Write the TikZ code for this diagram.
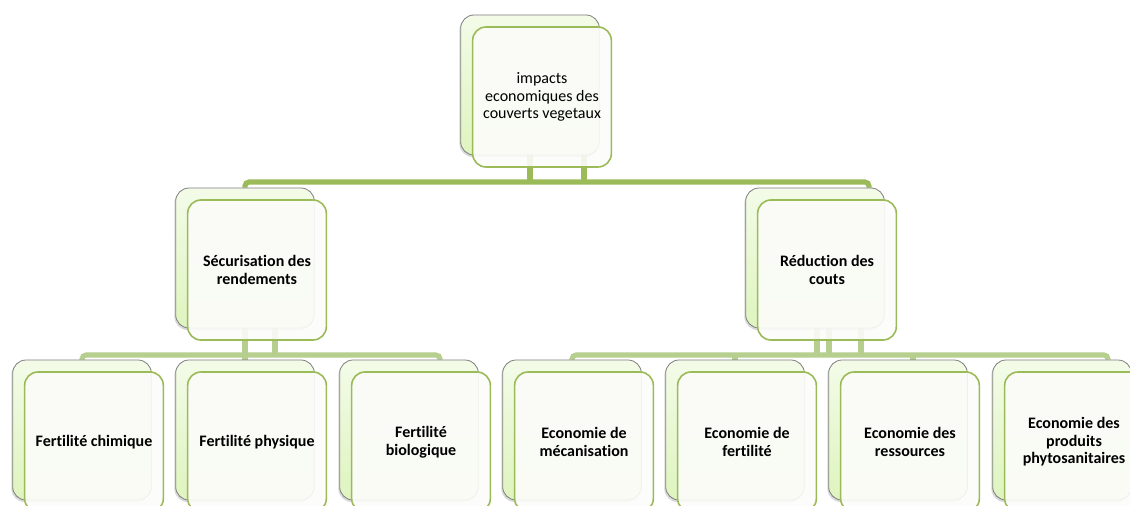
\documentclass[tikz,border=0pt]{standalone}
\usepackage{fontspec}
\setmainfont[Ligatures=NoCommon]{Carlito}
\usetikzlibrary{calc,shadows,backgrounds}

\definecolor{leafgreen}{RGB}{155,187,89}
\definecolor{twiggreen}{RGB}{182,206,142}
\definecolor{paleleaf}{RGB}{222,244,190}
\definecolor{frontwhite}{RGB}{252,252,250}
\definecolor{rimgray}{RGB}{125,125,125}

\tikzset{
  backbox/.style={draw=rimgray, line width=0.6pt, rounded corners=10pt,
    top color=paleleaf!35!white, bottom color=paleleaf,
    minimum width=104pt, minimum height=105pt,
    drop shadow={shadow xshift=-1pt, shadow yshift=-1.5pt, opacity=0.3}},
  frontbox/.style={draw=leafgreen, line width=1.2pt, rounded corners=10pt,
    fill=frontwhite, fill opacity=0.9, text opacity=1,
    minimum width=104pt, minimum height=105pt, align=center,
    font=\fontsize{12}{13.2}\selectfont\bfseries},
  trunk/.style={leafgreen, line width=3.8pt, rounded corners=3pt},
  twig/.style={twiggreen, line width=3.8pt, rounded corners=3pt}
}

\begin{document}
\begin{tikzpicture}[x=0.75pt, y=-0.75pt]
  \useasboundingbox (0,0) rectangle (1130,506);
  \clip (0,0) rectangle (1130,506);
  % Root
  \node[backbox] (root-b) at (530,85) {};
  \node[frontbox, font=\fontsize{12}{13.2}\selectfont] (root-f) at (542,97)
    {impacts\\economiques des\\couverts vegetaux};
  % Second row
  \node[backbox] (sec-b) at (245,258) {};
  \node[frontbox] (sec-f) at (257,270) {Sécurisation des\\rendements};
  \node[backbox] (red-b) at (815,258) {};
  \node[frontbox] (red-f) at (827,270) {Réduction des\\couts};
  % Third row
  \foreach \x/\n/\t in {82/fc/{Fertilité chimique}, 245/fp/{Fertilité physique},
      409/fb/{Fertilité\\biologique}, 572/me/{Economie de\\mécanisation},
      735/ef/{Economie de\\fertilité}, 898/er/{Economie des\\ressources},
      1062/ep/{Economie des\\produits\\phytosanitaires}} {
    \node[backbox] (\n-b) at (\x,430) {};
    \node[frontbox] (\n-f) at (\x+12,442) {\t};
  }
  % Connectors
  \begin{pgfonlayer}{background}
    \coordinate (bus-a) at (0,182);
    \coordinate (bus-b) at (0,355);
    \coordinate (root-tap) at ($(root-b.south)+(54,0)$);
    \coordinate (red-drop) at ($(red-b.north)+(54,0)$);
    \draw[trunk] (root-b.south) -- (root-b.south |- bus-a);
    \draw[trunk] (root-tap) -- (root-tap |- bus-a);
    \draw[trunk] (sec-b.north) |- (red-drop |- bus-a) -- (red-drop);
    % left branch
    \coordinate (sec-tap) at ($(sec-b.south)+(30,0)$);
    \coordinate (fb-drop) at ($(fb-b.north)+(31,0)$);
    \draw[twig] (sec-b.south) -- (fp-b.north);
    \draw[twig] (sec-tap) -- (sec-tap |- bus-b);
    \draw[twig] (fc-b.north) |- (fb-drop |- bus-b) -- (fb-drop);
    % right branch
    \foreach \d in {2,14,46} {
      \draw[twig] ($(red-b.south)+(\d,0)$) -- ++(0,27);
    }
    \coordinate (er-drop) at ($(er-b.north)+(15,0)$);
    \coordinate (ep-drop) at ($(ep-b.north)+(46,0)$);
    \draw[twig] (me-b.north) |- (ep-drop |- bus-b) -- (ep-drop);
    \draw[twig] (ef-b.north) -- (ef-b.north |- bus-b);
    \draw[twig] (er-drop) -- (er-drop |- bus-b);
  \end{pgfonlayer}
\end{tikzpicture}
\end{document}
